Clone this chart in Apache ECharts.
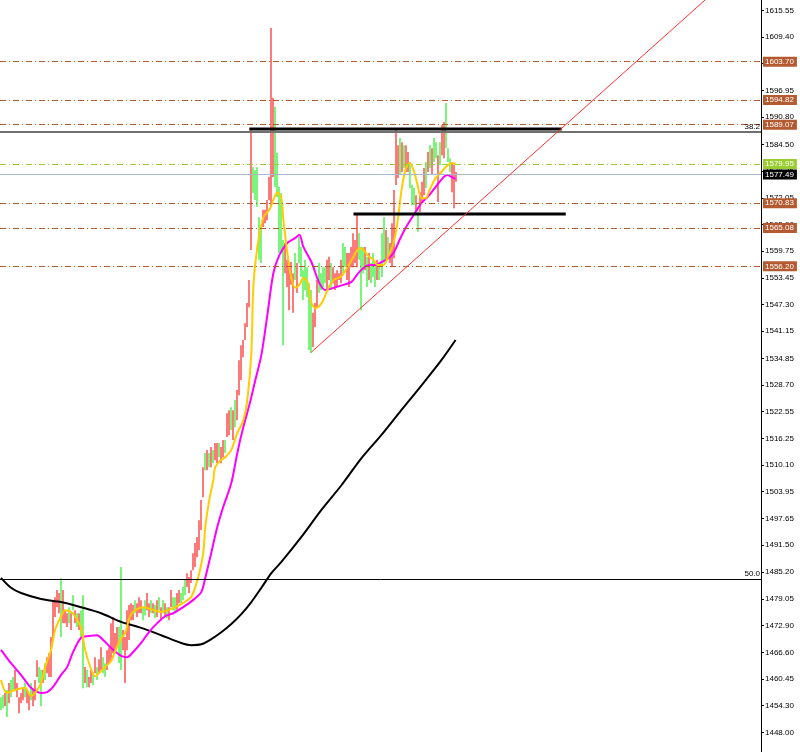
<!DOCTYPE html>
<html><head><meta charset="utf-8">
<script src="https://cdn.jsdelivr.net/npm/echarts@6/dist/echarts.min.js"></script>
<style>html,body{margin:0;padding:0;background:#fff}#c{width:800px;height:752px}</style>
</head><body><div id="c"></div>
<script>
// ---- candle data (price) ----
const highs = [
1456.2,1456.7,1457.2,1457.9,1459.5,1460.2,1460.9,1462.5,1459.5,1456.2,
1457.2,1458.5,1459.5,1457.9,1457.2,1459.5,1457.9,1460.2,1464.8,1463.2,
1462.5,1462.5,1464.1,1465.5,1466.4,1470.2,1478.7,1479.4,1481.1,1480.4,
1483.8,1481.1,1476.4,1475.7,1477.1,1475.7,1479.9,1476.4,1475.7,1475.7,
1476.4,1479.9,1463.2,1462.5,1460.9,1462.5,1462.0,1465.5,1463.2,1465.0,
1467.8,1465.5,1464.1,1467.1,1467.8,1473.4,1474.8,1471.1,1472.5,1472.5,
1486.4,1471.8,1470.2,1476.4,1477.6,1478.0,1477.6,1478.7,1478.0,1479.4,
1478.7,1477.1,1478.7,1480.4,1478.0,1478.7,1478.0,1477.6,1478.7,1479.4,
1477.1,1478.7,1478.0,1477.1,1477.1,1481.1,1479.4,1479.4,1480.4,1481.1,
1480.4,1481.8,1483.4,1485.0,1484.1,1485.7,1489.6,1492.0,1493.4,1497.3,
1502.0,1509.6,1512.9,1513.6,1512.9,1514.3,1513.6,1515.2,1515.2,1515.2,
1514.3,1515.9,1515.9,1522.1,1522.8,1523.5,1522.8,1525.2,1527.5,1534.4,
1537.9,1539.1,1543.0,1547.7,1553.0,1587.8,1579.2,1578.5,1579.2,1567.6,
1565.3,1569.3,1569.3,1571.6,1576.9,1611.5,1595.3,1593.2,1582.5,1574.6,
1573.2,1562.3,1561.6,1557.7,1556.0,1557.2,1554.6,1559.3,1557.0,1563.0,
1560.7,1555.3,1557.7,1556.0,1552.3,1550.7,1545.4,1547.7,1553.0,1557.0,
1554.6,1556.0,1556.0,1557.7,1558.4,1557.0,1556.0,1554.6,1555.3,1554.6,
1557.7,1561.6,1560.7,1559.3,1559.3,1560.7,1563.9,1562.3,1568.6,1563.9,
1560.7,1560.7,1560.7,1558.4,1559.3,1557.0,1559.3,1557.0,1557.7,1557.0,
1563.9,1567.6,1564.6,1563.0,1561.6,1566.2,1573.9,1588.3,1584.3,1586.0,
1585.0,1584.3,1584.3,1582.7,1580.4,1575.1,1574.4,1572.7,1568.8,1573.4,
1575.8,1579.0,1580.4,1582.7,1584.3,1583.6,1586.0,1585.0,1582.0,1585.0,
1589.0,1589.7,1594.1,1583.6,1581.3,1580.4,1579.7,1578.1];
const lows = [
1453.2,1453.7,1454.1,1451.6,1454.8,1456.2,1457.9,1457.9,1456.2,1452.5,
1454.8,1455.5,1456.2,1454.8,1453.2,1455.5,1454.1,1455.5,1460.9,1459.5,
1454.1,1459.5,1460.2,1461.8,1460.9,1460.9,1469.5,1474.8,1477.1,1475.7,
1470.2,1473.4,1473.4,1472.5,1473.4,1471.8,1476.4,1473.4,1472.5,1471.8,
1470.2,1458.3,1459.5,1458.5,1458.5,1459.5,1459.0,1461.8,1460.2,1462.0,
1462.5,1461.8,1460.9,1462.5,1464.1,1464.8,1466.4,1466.4,1467.8,1464.1,
1462.5,1467.1,1459.5,1467.1,1469.5,1474.1,1474.1,1475.7,1474.8,1475.7,
1475.7,1474.1,1475.2,1476.4,1474.8,1475.7,1475.7,1474.6,1474.8,1476.4,
1474.1,1475.7,1474.8,1474.6,1474.1,1477.1,1476.4,1475.7,1476.4,1478.0,
1478.0,1478.7,1479.9,1481.8,1480.4,1482.7,1485.7,1486.4,1488.7,1490.3,
1495.0,1502.6,1508.9,1508.9,1509.6,1509.6,1510.5,1511.2,1510.5,1511.9,
1510.5,1511.9,1512.9,1516.6,1517.0,1518.2,1515.9,1518.9,1520.5,1526.3,
1529.8,1535.1,1539.1,1542.1,1546.7,1560.0,1573.2,1571.6,1570.0,1557.7,
1557.0,1565.3,1566.2,1566.9,1571.6,1570.0,1576.9,1574.6,1572.3,1559.3,
1559.3,1537.9,1554.6,1551.4,1546.0,1551.9,1545.4,1553.0,1550.0,1557.0,
1553.7,1548.4,1550.7,1549.1,1536.8,1536.1,1537.5,1542.1,1546.7,1550.0,
1550.7,1551.4,1552.3,1550.7,1553.0,1550.7,1552.3,1550.7,1551.4,1553.0,
1552.3,1554.6,1556.0,1553.0,1551.4,1556.0,1556.0,1557.0,1556.0,1557.7,
1546.0,1554.6,1555.3,1551.4,1553.0,1552.3,1553.7,1551.4,1553.0,1553.0,
1553.7,1557.0,1557.7,1558.4,1557.0,1556.0,1558.1,1575.1,1576.7,1577.4,
1578.1,1579.0,1578.1,1578.1,1574.4,1570.4,1570.4,1568.8,1564.2,1568.8,
1571.1,1572.7,1574.4,1578.1,1579.0,1577.4,1580.4,1581.3,1571.1,1579.7,
1582.0,1581.3,1583.6,1580.4,1578.1,1573.4,1569.7,1575.8];
// G = bullish bar, R = bearish bar
const candleDir =
"GGRGRGGRRR"+"RRGRRGRRRG"+"GRGRRRRRRR"+"GRRRGRGRGR"+"GGRGRRGRGR"+
"RGGRRRRRRG"+"GRRRRRRGRR"+"RGGRRGRGRG"+"RGRGRRGGRR"+"GGGRRRRRRR"+
"RRGRGRGRRG"+"RRGRRGRGRR"+"RRRRRRGGGG"+"GRRRRRRGGG"+"GGRRRRRGRG"+
"GGGGGGRRRG"+"GGGRRGRRRR"+"RGGRRRRRRG"+"GGRGRGGGRG"+"GGRGRRRRRG"+
"RGRRGGGRGR"+"RRGRGRGGRG"+"RRGGGRRR";
const lastClose = 1577.49;

// ---- moving averages [bar index, price] ----
const fastMA = [[0,1460.2],[3,1457.2],[7,1457.9],[12,1458.4],[15,1456.5],[17,1457.2],[20,1459.5],[22,1463.2],[25,1467.2],[27,1471.8],[30,1475.0],[32,1476.4],[35,1476.0],[37,1475.0],[40,1472.3],[42,1467.2],[45,1462.7],[47,1461.1],[50,1462.3],[52,1463.2],[55,1464.6],[57,1466.9],[60,1469.9],[62,1471.1],[65,1475.5],[71,1477.1],[80,1476.0],[86,1476.9],[91,1478.1],[95,1479.5],[97,1481.8],[99,1485.0],[101,1489.7],[102,1495.7],[104,1502.0],[106,1506.6],[107,1509.6],[110,1511.3],[112,1511.9],[115,1513.6],[118,1517.5],[121,1520.5],[123,1525.2],[125,1536.0],[126,1551.4],[128,1560.7],[131,1567.6],[134,1569.3],[136,1571.6],[138,1573.4],[140,1572.0],[141,1567.0],[143,1559.3],[145,1553.5],[147,1551.2],[149,1551.9],[151,1553.5],[153,1552.6],[155,1547.7],[157,1546.5],[159,1547.0],[161,1548.4],[163,1550.7],[166,1553.0],[170,1553.9],[173,1556.0],[176,1558.4],[179,1560.4],[181,1560.0],[183,1558.8],[186,1557.7],[188,1556.5],[191,1556.5],[193,1558.1],[196,1561.6],[198,1566.5],[200,1573.9],[202,1578.6],[204,1580.2],[206,1578.6],[208,1575.1],[210,1572.0],[212,1572.0],[214,1573.9],[217,1576.7],[220,1578.1],[222,1579.2],[225,1580.2],[227,1579.95]];
const slowMA = [[0,1467.2],[5,1464.1],[10,1461.4],[15,1458.4],[20,1457.2],[23,1457.4],[26,1458.6],[30,1461.4],[33,1463.2],[36,1466.7],[40,1470.0],[44,1470.4],[48,1470.6],[51,1469.5],[56,1467.2],[60,1465.8],[63,1465.5],[66,1466.7],[70,1468.8],[74,1471.4],[78,1473.4],[82,1475.0],[86,1475.7],[91,1477.1],[96,1478.8],[100,1480.6],[102,1483.9],[105,1489.7],[108,1495.7],[111,1500.4],[115,1505.9],[118,1512.9],[121,1518.9],[124,1524.0],[127,1529.8],[130,1535.6],[133,1544.9],[136,1554.6],[139,1558.8],[143,1561.6],[147,1562.8],[149,1563.5],[151,1560.7],[155,1557.2],[159,1552.3],[162,1550.7],[166,1551.2],[171,1551.9],[175,1552.6],[178,1554.4],[181,1555.8],[184,1556.5],[187,1556.5],[190,1557.2],[193,1557.9],[196,1559.3],[199,1562.3],[202,1565.1],[207,1568.8],[210,1570.9],[214,1572.8],[217,1574.6],[221,1576.9],[223,1577.4],[225,1576.9],[227,1576.5]];
const longMA = [[0,1483.9],[5,1481.6],[10,1480.4],[20,1479.0],[30,1478.3],[40,1477.1],[50,1475.7],[60,1473.7],[70,1472.3],[80,1470.6],[90,1468.8],[95,1468.3],[100,1468.5],[105,1469.7],[110,1471.3],[115,1473.2],[120,1475.5],[125,1478.3],[130,1481.6],[135,1485.0],[140,1487.6],[150,1493.4],[160,1499.7],[170,1505.4],[180,1511.7],[190,1517.1],[200,1522.9],[210,1528.6],[220,1534.5],[227,1539.1]];

// ---- axis & levels ----
const yTickValues = [1615.55,1609.40,1603.25,1596.95,1590.80,1584.50,1578.35,1572.05,1565.90,1559.75,1553.45,1547.30,1541.15,1534.85,1528.70,1522.55,1516.25,1510.10,1503.95,1497.65,1491.50,1485.20,1479.05,1472.90,1466.60,1460.45,1454.30,1448.00];
const yMin = 1443.5, yMax = 1618.0;
const levelPrices = [1603.70,1594.82,1589.07,1570.83,1565.08,1556.20];
const maTagPrice = 1579.95;
const bidPrice = 1577.49;
const fibNames = ['38.2','50.0'];
const fibPrices = [1587.47,1483.66];
const resistSeg = [[124,1588.09],[280,1588.09]];
const supportSeg = [[176,1568.37],[282,1568.37]];
const trendLine = [[155,1536.3],[379,1629.4]];
const slotCount = 380;

// ---- build ----
const cats = Array.from({length: slotCount}, (_, i) => i);
// [index, open, close, low, high]
const bars = highs.map((h, i) => {
  const l = lows[i];
  const up = candleDir[i] === 'G';
  let o = up ? l : h, c = up ? h : l;
  if (i === highs.length - 1) c = lastClose;
  return [i, o, c, l, h];
});
const UP = '#22ee22', DOWN = '#ff2020';
function renderBar(params, api){
  const i = api.value(0), o = api.value(1), c = api.value(2), l = api.value(3), h = api.value(4);
  const pTop = api.coord([i, h]), pBot = api.coord([i, l]);
  const x = Math.round(pTop[0]);
  return {type:'rect', shape:{x:x - 0.6, y:pTop[1], width:1.2, height:Math.max(1, pBot[1] - pTop[1])},
    style:{fill: c >= o ? UP : DOWN}};
}
const FONT = 'Liberation Sans';
const brown = '#b45a30';
function boxLabel(bg){
  return {show:true, position:'end', distance:2, formatter:p=>Number(p.value).toFixed(2),
    color:'#fff', backgroundColor:bg, fontSize:8, fontFamily:FONT, padding:[1,3,0,2], lineHeight:9};
}
const mlData = [];
levelPrices.forEach(v => mlData.push({yAxis:v, lineStyle:{color:brown, type:[6,3,1,3], width:1}, label:boxLabel(brown)}));
mlData.push({yAxis:maTagPrice, lineStyle:{color:'#9acd32', type:[6,3,1,3], width:1}, label:boxLabel('#9acd32')});
mlData.push({yAxis:bidPrice, lineStyle:{color:'#a9b9cc', type:'solid', width:1}, label:boxLabel('#000')});
fibNames.forEach((n, k) => mlData.push({name:n, yAxis:fibPrices[k],
  lineStyle:{color: k===0 ? '#707070' : '#000', type:'solid', width: k===0 ? 2 : 1},
  label:{show:true, position:'insideEndTop', distance:1, formatter:n, color:'#000', fontSize:8, fontFamily:FONT}}));

const chart = echarts.init(document.getElementById('c'), null, {renderer:'canvas'});
chart.setOption({
  animation:false,
  backgroundColor:'#fff',
  grid:{left:0, right:39, top:0, bottom:0},
  xAxis:{type:'category', data:cats, boundaryGap:true, show:false},
  yAxis:{type:'value', position:'right', min:yMin, max:yMax, scale:true,
    splitLine:{show:false},
    axisLine:{show:true, onZero:false, lineStyle:{color:'#000', width:1}},
    axisTick:{show:true, length:3, customValues:yTickValues, lineStyle:{color:'#000'}},
    axisLabel:{show:true, margin:4, customValues:yTickValues, formatter:v=>Number(v).toFixed(2),
      color:'#000', fontSize:8, fontFamily:FONT}},
  series:[
    {type:'line', data:[], z:1, silent:true,
      markLine:{symbol:'none', silent:true, animation:false, data:mlData}},
    {type:'custom', data:bars, z:2, renderItem:renderBar, encode:{x:0, y:[3,4]}, clip:true},
    {type:'line', data:longMA, z:3, symbol:'none', smooth:0.3, lineStyle:{color:'#000', width:2}},
    {type:'line', data:slowMA, z:3, symbol:'none', smooth:0.3, lineStyle:{color:'#ff00ff', width:2}},
    {type:'line', data:fastMA, z:4, symbol:'none', smooth:0.3, lineStyle:{color:'#ffcc00', width:2}},
    {type:'line', data:resistSeg, z:5, symbol:'none', lineStyle:{color:'#000', width:3}},
    {type:'line', data:supportSeg, z:5, symbol:'none', lineStyle:{color:'#000', width:3}},
    {type:'line', data:trendLine, z:5, symbol:'none', lineStyle:{color:'#ff3030', width:1}}
  ]
});
</script></body></html>
